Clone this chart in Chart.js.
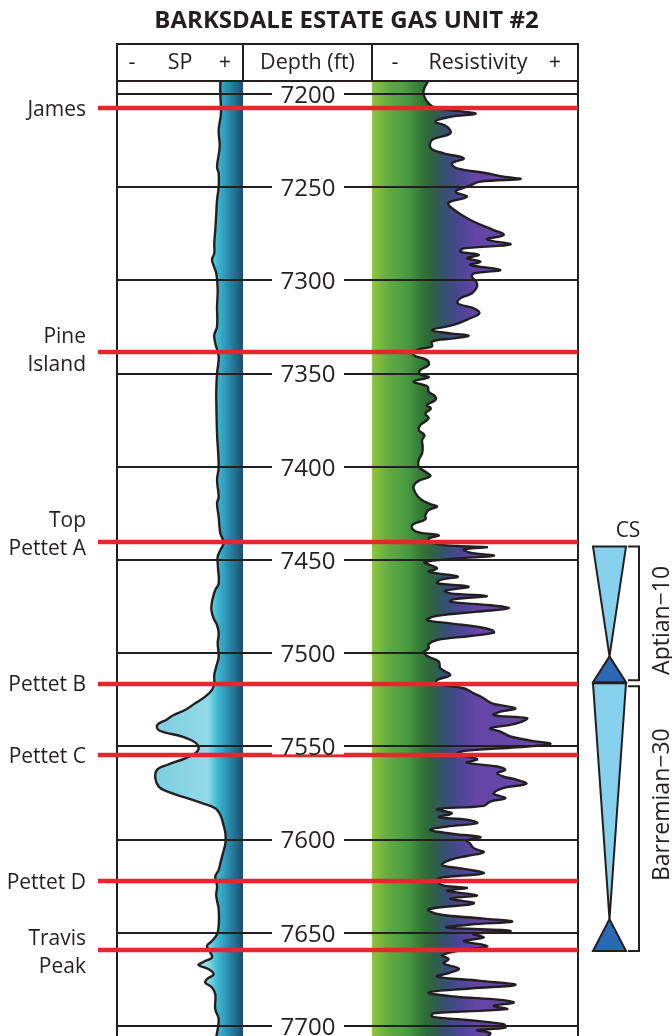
<!DOCTYPE html>
<html>
<head>
<meta charset="utf-8">
<script src="https://cdn.jsdelivr.net/npm/chart.js@4.4.1/dist/chart.umd.min.js"></script>
<style>
  html, body { margin: 0; padding: 0; background: #ffffff; }
  #wrap { width: 672px; height: 1036px; position: relative; }
  canvas { display: block; }
</style>
</head>
<body>
<div id="wrap"><canvas id="c" width="672" height="1036"></canvas></div>
<script>
// ---------------- DATA ----------------
const chartTitle = "BARKSDALE ESTATE GAS UNIT #2";
const depthTicks = [7200, 7250, 7300, 7350, 7400, 7450, 7500, 7550, 7600, 7650, 7700];

// SP curve (relative units, 0 = "-" side, 100 = "+" side)
const spDepth = [7192.5, 7199.6, 7210.4, 7219.3, 7228.2, 7239.0, 7242.6, 7249.7, 7256.9, 7264.0,
  7273.0, 7280.1, 7285.5, 7289.0, 7296.2, 7305.1, 7314.1, 7324.8, 7329.3, 7333.7,
  7340.9, 7349.8, 7358.8, 7364.2, 7382.1, 7400.0, 7407.1, 7416.1, 7419.6, 7426.8,
  7435.7, 7440.7, 7444.7, 7448.2, 7452.7, 7462.5, 7466.1, 7468.8, 7472.4, 7476.8,
  7481.3, 7484.9, 7489.3, 7494.7, 7501.9, 7507.2, 7511.7, 7516.2, 7519.7, 7523.3,
  7526.9, 7530.5, 7533.2, 7535.8, 7538.5, 7541.5, 7544.7, 7548.0, 7551.0, 7553.7,
  7556.4, 7560.0, 7562.6, 7567.1, 7571.6, 7574.2, 7577.8, 7580.5, 7583.2, 7586.8,
  7591.2, 7596.6, 7602.0, 7607.3, 7612.7, 7616.3, 7619.9, 7624.9, 7630.2, 7637.4,
  7646.3, 7650.8, 7654.4, 7657.1, 7660.6, 7663.3, 7665.6, 7667.4, 7669.6, 7672.3,
  7674.9, 7676.7, 7679.4, 7683.0, 7691.0, 7696.4, 7706.0];
const spValue = [82.0, 82.0, 82.5, 80.7, 81.5, 79.4, 80.7, 80.7, 79.4, 78.8,
  78.0, 77.2, 77.2, 75.4, 78.8, 79.9, 79.4, 79.4, 77.2, 78.0,
  80.7, 79.4, 78.8, 78.8, 79.4, 80.7, 79.4, 80.7, 79.4, 80.7,
  82.0, 84.7, 82.0, 79.9, 80.0, 80.7, 78.0, 76.7, 75.4, 74.9,
  76.7, 79.4, 80.7, 79.9, 80.7, 78.8, 77.2, 77.2, 75.4, 70.0,
  62.0, 54.0, 45.0, 39.0, 32.0, 33.5, 51.6, 62.2, 64.8, 62.2,
  54.2, 39.7, 31.7, 30.4, 33.1, 39.7, 55.6, 67.5, 78.0, 82.0,
  84.1, 86.0, 86.0, 84.1, 82.0, 80.7, 78.0, 79.4, 78.8, 80.7,
  80.7, 79.4, 75.4, 71.4, 74.1, 75.4, 68.8, 64.8, 72.8, 76.7,
  71.4, 70.1, 75.4, 78.0, 78.0, 80.7, 78.8];

// Resistivity curve (relative units, 0 = "-" side, 100 = "+" side)
const resDepth = [7192.5, 7197.9, 7201.4, 7205.4, 7207.7, 7209.5, 7210.6, 7212.2, 7214.8, 7217.5,
  7221.1, 7224.7, 7229.1, 7231.8, 7234.5, 7237.2, 7239.9, 7242.2, 7244.3, 7245.6,
  7247.0, 7249.4, 7252.4, 7255.1, 7258.3, 7261.3, 7267.6, 7273.0, 7275.6, 7278.0,
  7280.7, 7282.8, 7284.6, 7286.3, 7288.1, 7289.9, 7291.7, 7294.4, 7296.2, 7298.0,
  7300.7, 7303.3, 7306.9, 7309.6, 7312.3, 7315.0, 7317.6, 7320.3, 7323.9, 7326.6,
  7328.4, 7329.6, 7331.1, 7332.8, 7335.5, 7337.0, 7340.0, 7342.7, 7345.4, 7348.0,
  7350.2, 7352.0, 7354.3, 7357.0, 7359.7, 7362.3, 7364.2, 7366.9, 7368.7, 7371.4,
  7374.0, 7377.6, 7380.3, 7383.0, 7385.7, 7389.2, 7392.8, 7396.4, 7400.0, 7402.6,
  7405.0, 7407.5, 7410.3, 7413.9, 7417.5, 7420.0, 7421.4, 7423.2, 7425.9, 7428.2,
  7430.7, 7433.0, 7435.2, 7436.8, 7438.6, 7441.1, 7442.5, 7443.1, 7444.3, 7446.1,
  7447.7, 7449.3, 7451.2, 7452.7, 7454.5, 7456.3, 7458.9, 7460.7, 7462.5, 7464.3,
  7466.5, 7467.9, 7469.3, 7471.1, 7472.5, 7474.3, 7475.9, 7477.7, 7480.0, 7482.2,
  7484.0, 7485.8, 7487.6, 7489.0, 7490.8, 7492.9, 7495.1, 7497.4, 7499.5, 7501.9,
  7504.5, 7508.1, 7511.7, 7514.4, 7516.5, 7518.8, 7521.5, 7524.2, 7526.9, 7529.6,
  7531.4, 7533.2, 7534.9, 7536.7, 7538.5, 7540.3, 7542.1, 7544.7, 7546.9, 7548.7,
  7550.5, 7552.3, 7554.0, 7556.9, 7558.7, 7560.8, 7562.6, 7564.4, 7566.2, 7568.0,
  7570.1, 7571.9, 7573.7, 7575.5, 7577.8, 7579.6, 7581.9, 7583.7, 7585.9, 7588.0,
  7589.4, 7591.2, 7593.0, 7594.8, 7597.0, 7598.7, 7600.5, 7602.3, 7604.7, 7606.8,
  7608.8, 7610.9, 7613.6, 7615.7, 7618.1, 7619.9, 7621.3, 7624.5, 7625.9, 7627.5,
  7629.9, 7631.7, 7634.2, 7637.4, 7640.1, 7642.4, 7644.0, 7645.6, 7647.2, 7649.0,
  7650.8, 7652.6, 7654.5, 7657.1, 7659.2, 7662.1, 7664.2, 7666.4, 7669.2, 7671.4,
  7673.5, 7675.8, 7678.0, 7679.9, 7682.1, 7684.2, 7686.0, 7687.5, 7689.2, 7691.0,
  7693.2, 7695.0, 7696.8, 7699.1, 7700.9, 7702.3, 7703.9, 7706.5];
const resValue = [27.5, 25.1, 25.4, 27.8, 31.6, 44.5, 50.2, 38.0, 30.7, 36.4,
  38.0, 29.1, 28.6, 34.8, 44.5, 38.8, 41.3, 54.2, 63.9, 72.0,
  52.6, 46.9, 40.5, 46.1, 37.2, 38.8, 47.7, 59.1, 63.9, 55.8,
  67.2, 44.5, 42.9, 51.8, 46.1, 52.6, 47.7, 62.3, 49.4, 48.5,
  50.6, 51.0, 48.5, 42.9, 41.6, 49.4, 52.1, 47.7, 39.6, 29.1,
  38.0, 46.9, 39.6, 29.1, 29.1, 22.7, 20.2, 26.7, 27.5, 23.5,
  23.1, 27.5, 20.2, 27.0, 27.5, 30.7, 30.7, 26.7, 28.6, 25.9,
  27.5, 23.5, 22.7, 25.4, 24.3, 24.6, 24.3, 22.7, 22.7, 25.9,
  28.3, 22.7, 20.2, 21.0, 23.8, 28.3, 31.6, 27.5, 25.9, 25.9,
  20.2, 19.4, 22.7, 32.4, 27.5, 29.9, 41.3, 55.8, 44.5, 47.7,
  59.1, 39.6, 25.5, 28.3, 31.6, 27.5, 41.6, 33.2, 31.6, 46.9,
  35.6, 38.0, 55.8, 39.6, 38.0, 57.4, 66.3, 51.0, 31.6, 26.7,
  38.0, 51.0, 58.3, 59.1, 47.7, 31.6, 27.5, 27.5, 25.1, 27.5,
  32.4, 33.2, 38.0, 31.6, 31.6, 44.5, 49.4, 54.2, 58.3, 69.6,
  62.3, 59.1, 75.2, 72.8, 67.2, 57.4, 62.3, 67.2, 76.9, 86.6,
  70.4, 46.1, 41.3, 51.0, 46.1, 60.7, 64.7, 60.7, 63.9, 70.4,
  74.9, 65.5, 60.7, 59.1, 64.7, 57.4, 54.2, 31.6, 38.8, 32.4,
  46.1, 51.0, 36.4, 28.3, 39.6, 52.6, 46.1, 47.7, 49.4, 54.2,
  46.1, 38.0, 34.0, 44.5, 54.2, 38.0, 31.6, 34.0, 46.1, 36.4,
  51.0, 38.0, 49.4, 27.5, 32.4, 54.2, 68.0, 47.7, 36.4, 67.2,
  49.4, 54.2, 44.5, 56.1, 44.5, 34.0, 37.2, 34.8, 42.1, 38.0,
  31.6, 52.6, 69.6, 47.7, 27.5, 39.6, 62.3, 68.8, 59.1, 65.5,
  29.9, 29.1, 46.1, 63.9, 64.7, 51.0, 57.4, 55.0];

// Formation tops
const topNames = [["James"], ["Pine", "Island"], ["Top", "Pettet A"], ["Pettet B"], ["Pettet C"], ["Pettet D"], ["Travis", "Peak"]];
const topDepths = [7207.5, 7338.3, 7440.6, 7516.7, 7554.8, 7622.3, 7659.3];

// Sequence-stratigraphic cycles (top, turn-around, base)
const seqNames = ["Aptian\u221210", "Barremian\u221230"];
const seqTop = [7442.8, 7516.2];
const seqTurn = [7501.7, 7642.7];
const seqBase = [7515.6, 7659.8];
const csLabel = "CS";

// Header texts
const headerSP = ["-", "SP", "+"];
const headerDepth = "Depth (ft)";
const headerRes = ["-", "Resistivity", "+"];

// ---------------- STYLE ----------------
const FONT = '"Open Sans", "Noto Sans", "DejaVu Sans", sans-serif';
const INK = '#231f20';
const RED = '#e4262d';
const SP_RANGE = [0, 100];   // relative units across SP track
const RES_RANGE = [0, 100];  // relative units across resistivity track
const TRACK = { left: 117, spRight: 243, resLeft: 372, right: 578 };

const spStops = [[0, '#7fd0e1'], [0.32, '#7dcfe0'], [0.72, '#93d9e7'], [0.79, '#41bdd5'], [0.88, '#2a8db0'], [1, '#1c4d6c']];
const resStops = [[0, '#8dc63f'], [0.08, '#63ab42'], [0.17, '#489a40'], [0.26, '#2e6f37'], [0.30, '#2f6046'], [0.36, '#364e74'], [0.43, '#4d4596'], [0.50, '#6346a6'], [1, '#6a48ab']];

function gradientFor(chart, scaleId, lo, hi, stops) {
  const { ctx, chartArea, scales } = chart;
  if (!chartArea) return 'rgba(0,0,0,0)';
  const s = scales[scaleId];
  const g = ctx.createLinearGradient(s.getPixelForValue(lo), 0, s.getPixelForValue(hi), 0);
  stops.forEach(([p, c]) => g.addColorStop(p, c));
  return g;
}

// x scales: chosen so that each track's 0..100 fills its own column
const W = TRACK.right - TRACK.left;
const spW = TRACK.spRight - TRACK.left;
const resW = TRACK.right - TRACK.resLeft;
const xspMin = SP_RANGE[0];
const xspMax = SP_RANGE[0] + (SP_RANGE[1] - SP_RANGE[0]) * W / spW;
const xresMax = RES_RANGE[1];
const xresMin = RES_RANGE[1] - (RES_RANGE[1] - RES_RANGE[0]) * W / resW;

const decor = {
  id: 'decor',
  afterDraw(chart) {
    const { ctx, chartArea: a, scales } = chart;
    const y = scales.y;
    const xsp = scales.xsp, xres = scales.xres;
    const xL = a.left, xR = a.right;
    const xS = xsp.getPixelForValue(SP_RANGE[1]);
    const xRs = xres.getPixelForValue(RES_RANGE[0]);
    ctx.save();

    // outer track borders
    ctx.strokeStyle = INK;
    ctx.lineWidth = 2;
    ctx.beginPath();
    ctx.moveTo(xL, a.top); ctx.lineTo(xL, a.bottom);
    ctx.moveTo(xR, a.top); ctx.lineTo(xR, a.bottom);
    ctx.stroke();

    // red formation tops
    ctx.strokeStyle = RED;
    ctx.lineWidth = 4.5;
    topDepths.forEach(d => {
      const py = Math.round(y.getPixelForValue(d));
      ctx.beginPath();
      ctx.moveTo(98, py); ctx.lineTo(xR, py);
      ctx.stroke();
    });

    // depth labels with white knock-out
    const xc = (xS + xRs) / 2 + 0.5;
    ctx.font = '24px ' + FONT;
    ctx.textAlign = 'center';
    ctx.textBaseline = 'middle';
    depthTicks.forEach(t => {
      const py = y.getPixelForValue(t);
      ctx.fillStyle = '#ffffff';
      ctx.fillRect(xc - 36, py - 8, 72, 16);
      ctx.fillStyle = INK;
      ctx.fillText(String(t), xc, py + 2);
    });

    // formation names
    const labelDy = [2, -1, -7, 1, 2, 2, 3];
    ctx.font = '21px ' + FONT;
    ctx.textAlign = 'right';
    ctx.fillStyle = INK;
    topNames.forEach((lines, i) => {
      const py = y.getPixelForValue(topDepths[i]) + labelDy[i];
      const lh = 28;
      const y0 = py - (lines.length - 1) * lh / 2;
      lines.forEach((s, k) => ctx.fillText(s, 86, y0 + k * lh));
    });

    // header
    const hTop = 44, hBot = a.top;
    ctx.fillStyle = '#ffffff';
    ctx.fillRect(xL, hTop, xR - xL, hBot - hTop);
    ctx.strokeStyle = INK;
    ctx.lineWidth = 2;
    ctx.strokeRect(xL, hTop, xR - xL, hBot - hTop);
    ctx.beginPath();
    ctx.moveTo(xS, hTop); ctx.lineTo(xS, hBot);
    ctx.moveTo(xRs, hTop); ctx.lineTo(xRs, hBot);
    ctx.stroke();
    const hy = (hTop + hBot) / 2;
    ctx.fillStyle = INK;
    ctx.font = '21.5px ' + FONT;
    ctx.textAlign = 'center';
    ctx.fillText(headerSP[0], xL + 15, hy);
    ctx.fillText(headerSP[1], (xL + xS) / 2, hy);
    ctx.fillText(headerSP[2], xS - 18, hy);
    ctx.fillText(headerDepth, (xS + xRs) / 2, hy);
    ctx.fillText(headerRes[0], xRs + 23, hy);
    ctx.fillText(headerRes[1], (xRs + xR) / 2 + 3, hy);
    ctx.fillText(headerRes[2], xR - 23, hy);

    // title
    ctx.font = 'bold 24px ' + FONT;
    ctx.fillText(chartTitle, (xL + xR) / 2 - 1, 21);

    // sequence triangles
    const tL = 593, tR = 626, tC = (tL + tR) / 2;
    ctx.lineWidth = 2;
    ctx.lineJoin = 'miter';
    seqNames.forEach((name, i) => {
      const yT = y.getPixelForValue(seqTop[i]);
      const yM = y.getPixelForValue(seqTurn[i]);
      const yB = y.getPixelForValue(seqBase[i]);
      ctx.fillStyle = '#87d0ee';
      ctx.strokeStyle = INK;
      ctx.beginPath();
      ctx.moveTo(tL, yT); ctx.lineTo(tR, yT); ctx.lineTo(tC, yM); ctx.closePath();
      ctx.fill(); ctx.stroke();
      ctx.fillStyle = '#2b69b2';
      ctx.beginPath();
      ctx.moveTo(tC, yM); ctx.lineTo(tR, yB); ctx.lineTo(tL, yB); ctx.closePath();
      ctx.fill(); ctx.stroke();
      // bracket
      const b1 = yT + (i === 0 ? 0 : 3), b2 = yB - (i === 0 ? 2 : 0);
      ctx.beginPath();
      ctx.moveTo(628, b1); ctx.lineTo(639, b1); ctx.lineTo(639, b2); ctx.lineTo(628, b2);
      ctx.stroke();
      // rotated name
      ctx.save();
      ctx.translate(662, (b1 + b2) / 2 + (i === 0 ? 7 : -14));
      ctx.rotate(-Math.PI / 2);
      ctx.fillStyle = INK;
      ctx.font = '23px ' + FONT;
      ctx.textAlign = 'center';
      ctx.textBaseline = 'middle';
      ctx.fillText(name, 0, 0);
      ctx.restore();
    });
    ctx.fillStyle = INK;
    ctx.font = '21px ' + FONT;
    ctx.textAlign = 'center';
    ctx.fillText(csLabel, 628, y.getPixelForValue(seqTop[0]) - 16);

    ctx.restore();
  }
};

const chart = new Chart(document.getElementById('c'), {
  type: 'line',
  data: {
    datasets: [
      {
        label: 'SP',
        data: spDepth.map((d, i) => ({ x: spValue[i], y: d })),
        xAxisID: 'xsp',
        yAxisID: 'y',
        borderColor: INK,
        borderWidth: 2.4,
        pointRadius: 0,
        tension: 0.4,
        fill: { value: SP_RANGE[1] },
        backgroundColor: c => gradientFor(c.chart, 'xsp', SP_RANGE[0], SP_RANGE[1], spStops)
      },
      {
        label: 'Resistivity',
        data: resDepth.map((d, i) => ({ x: resValue[i], y: d })),
        xAxisID: 'xres',
        yAxisID: 'y',
        borderColor: INK,
        borderWidth: 2.4,
        pointRadius: 0,
        tension: 0.4,
        fill: { value: RES_RANGE[0] },
        backgroundColor: c => gradientFor(c.chart, 'xres', RES_RANGE[0], RES_RANGE[1], resStops)
      }
    ]
  },
  options: {
    indexAxis: 'y',
    responsive: false,
    animation: false,
    devicePixelRatio: 1,
    layout: { padding: { left: 117, right: 94, top: 81, bottom: 0 } },
    plugins: { legend: { display: false }, tooltip: { enabled: false }, title: { display: false } },
    scales: {
      y: {
        type: 'linear',
        reverse: true,
        min: 7193,
        max: 7705.4,
        display: true,
        afterBuildTicks: s => { s.ticks = depthTicks.map(v => ({ value: v })); },
        ticks: { display: false },
        grid: { z: 1, color: INK, lineWidth: 2, drawTicks: false },
        border: { display: false }
      },
      xsp: { type: 'linear', position: 'bottom', min: xspMin, max: xspMax, display: false },
      xres: { type: 'linear', position: 'bottom', min: xresMin, max: xresMax, display: false }
    }
  },
  plugins: [decor]
});
</script>
</body>
</html>
